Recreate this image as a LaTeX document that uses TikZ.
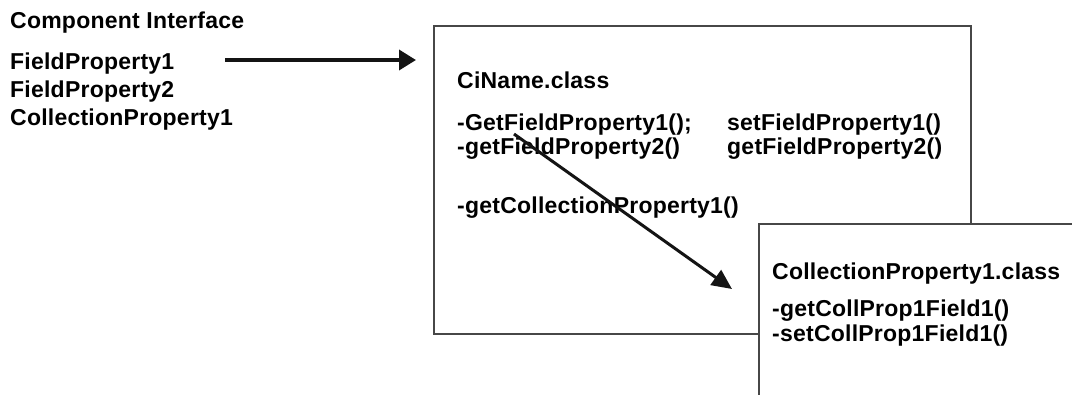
\documentclass[tikz,border=0pt]{standalone}
\usepackage{fontspec}
\setmainfont{Liberation Sans}[LetterSpace=1]
\usetikzlibrary{arrows.meta}
\begin{document}
\begin{tikzpicture}[x=1pt,y=-1pt,
  txt/.style={anchor=base west, inner sep=0pt, font=\fontsize{23}{27}\selectfont\bfseries},
  boxline/.style={draw=black!72, line width=1.6pt},
  arr/.style={draw=black!92, line width=3.6pt, -{Triangle[length=17pt,width=20pt]}},
  arrthin/.style={draw=black!92, line width=3pt, -{Triangle[length=20pt,width=18pt]}}]
\useasboundingbox[fill=white] (0,0) rectangle (1072,394);
\clip (0,0) rectangle (1072,394);
% left list
\node[txt] (ci)  at (10,28)  {Component Interface};
\node[txt] (fp1) at (10,69)  {FieldProperty1};
\node[txt] (fp2) at (10,97)  {FieldProperty2};
\node[txt] (cp1) at (10,125) {CollectionProperty1};
% big box
\node[boxline, fill=white, anchor=north west, inner sep=0pt,
      minimum width=537pt, minimum height=308pt] (cibox) at (433,25) {};
\node[txt] (cn)   at (457,88)  {CiName.class};
\node[txt] (g1)   at (457,130) {-GetFieldProperty1();};
\node[txt] (g2)   at (457,154) {-getFieldProperty2()};
\node[txt] (s1)   at (727,130) {setFieldProperty1()};
\node[txt] (s2)   at (727,154) {getFieldProperty2()};
\node[txt] (gc)   at (457,213) {-getCollectionProperty1()};
% small box
\node[boxline, fill=white, anchor=north west, inner sep=0pt,
      minimum width=400pt, minimum height=250pt] (cpbox) at (758,223) {};
\node[txt] (cpn)  at (772,279) {CollectionProperty1.class};
\node[txt] (cg)   at (772,316) {-getCollProp1Field1()};
\node[txt] (cs)   at (772,341) {-setCollProp1Field1()};
% arrows
\coordinate (a1s) at (225,60);
\coordinate (a1e) at (416,60);
\draw[arr] (a1s) -- (a1e);
\coordinate (a2s) at (514,134);
\coordinate (a2e) at (732,289);
\draw[arrthin] (a2s) -- (a2e);
\end{tikzpicture}
\end{document}
